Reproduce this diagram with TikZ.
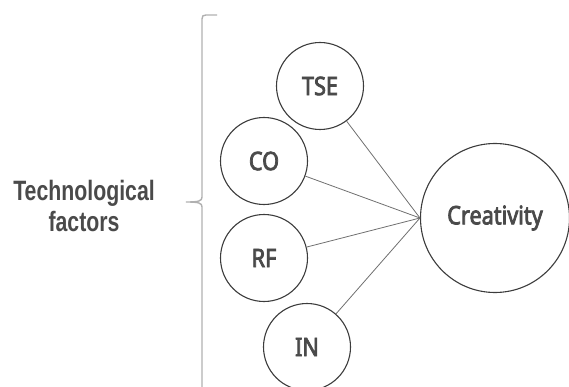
\documentclass[tikz,border=0pt]{standalone}
\usepackage{fontspec}
\newfontfamily\labfont[FakeStretch=0.85, FakeBold=3]{Noto Sans}
\newfontfamily\headfont[FakeStretch=0.76]{Liberation Sans}
\definecolor{txt}{HTML}{4A4A4A}
\definecolor{ring}{HTML}{3C3C3C}
\definecolor{conn}{HTML}{707070}
\definecolor{brace}{HTML}{B0B0B0}
\tikzset{
  factor/.style={circle, draw=ring, line width=1.1pt, minimum size=87pt, inner sep=0pt,
    text=txt, font=\labfont\fontsize{25.5}{30}\selectfont},
  bigcircle/.style={factor, minimum size=149pt},
  link/.style={draw=conn, line width=0.8pt},
  bracestyle/.style={draw=brace, line width=1.4pt},
  heading/.style={align=center, text=txt, font=\headfont\bfseries\fontsize{28}{31}\selectfont}
}
\begin{document}
\begin{tikzpicture}[x=1pt,y=-1pt]
\useasboundingbox (0,0) rectangle (569,387);
% bracket
\draw[bracestyle] (217,15) -- (206,15) .. controls (203,15) and (202,16) .. (202,19)
  -- (202,197) .. controls (202,201) and (199,202) .. (186,202)
  .. controls (199,202) and (202,203) .. (202,207) -- (202,387);
% heading
\node[heading] (tech) at (84,206) {Technological\\factors};
% nodes
\node[factor] (tse) at (320,86) {TSE};
\node[factor] (co) at (264,161) {CO};
\node[factor] (rf) at (264,258) {RF};
\node[factor] (in) at (307,347) {IN};
\node[bigcircle] (cr) at (495,218) {Creativity};
% connectors
\draw[link] (tse) -- (cr.west);
\draw[link] (co) -- (cr.west);
\draw[link] (rf) -- (cr.west);
\draw[link] (in) -- (cr.west);
\end{tikzpicture}
\end{document}
